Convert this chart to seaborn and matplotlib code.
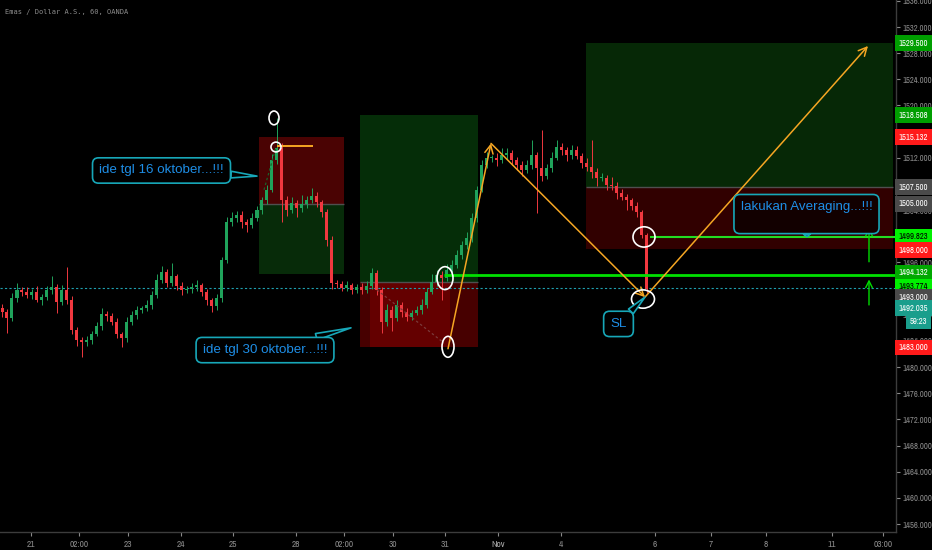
import numpy as np
import pandas as pd
import matplotlib
matplotlib.use('Agg')
import matplotlib.pyplot as plt
import matplotlib.transforms as mtransforms
from matplotlib import font_manager
from matplotlib.patches import Ellipse
import seaborn as sns

# Emas / Dollar A.S., 60m - bars (one bar per slot)
first_open = 1489.0
closes = [
    1488.4, 1487.5, 1490.6, 1491.8, 1491.5, 1491.0, 1491.5, 1490.3, 1490.7, 1491.8,
    1492.2, 1490.0, 1491.8, 1490.3, 1485.7, 1484.1, 1483.8, 1484.1, 1485.1, 1486.3,
    1488.1, 1487.8, 1486.9, 1485.1, 1484.4, 1486.9, 1488.0, 1488.7, 1489.0, 1489.5,
    1491.0, 1493.3, 1494.5, 1492.9, 1493.9, 1492.4, 1491.8, 1491.9, 1492.2, 1492.5,
    1491.5, 1490.3, 1489.3, 1490.6, 1496.4, 1502.2, 1502.8, 1503.3, 1502.2, 1501.7,
    1502.8, 1504.0, 1505.5, 1507.1, 1511.7, 1513.5, 1505.5, 1504.0, 1505.1, 1504.3,
    1504.9, 1505.5, 1506.2, 1505.2, 1503.7, 1499.4, 1492.9, 1492.7, 1492.1, 1492.5,
    1491.8, 1492.2, 1491.8, 1492.4, 1494.4, 1491.8, 1486.9, 1488.7, 1487.5, 1489.5,
    1488.4, 1487.7, 1488.3, 1488.7, 1489.5, 1491.5, 1493.0, 1494.1, 1493.6, 1494.8,
    1495.6, 1497.1, 1498.7, 1499.7, 1502.8, 1507.1, 1510.9, 1512.0, 1512.0, 1511.7,
    1512.4, 1512.7, 1511.7, 1510.9, 1510.1, 1510.9, 1512.4, 1510.4, 1509.2, 1510.4,
    1512.0, 1513.7, 1513.2, 1512.4, 1513.2, 1512.3, 1511.2, 1510.6, 1509.8, 1508.9,
    1508.9, 1507.8, 1507.7, 1506.6, 1506.0, 1505.5, 1504.6, 1503.7, 1500.2, 1492.0,
]
hi_wick = [
    0.6, 0.5, 0.8, 1.0, 0.4, 0.7, 0.5, 0.9, 0.4, 0.6,
    1.8, 0.5, 0.8, 3.5, 0.6, 0.4, 0.5, 0.7, 0.4, 0.6,
    0.9, 0.5, 0.4, 0.6, 0.3, 0.7, 0.5, 0.6, 0.4, 0.8,
    0.6, 1.0, 0.9, 0.5, 2.0, 0.4, 0.6, 0.5, 0.7, 0.8,
    0.4, 0.5, 0.3, 0.6, 0.5, 0.7, 0.9, 0.6, 0.5, 0.4,
    0.8, 0.6, 0.5, 0.7, 0.9, 4.6, 0.8, 0.6, 0.9, 0.5,
    1.4, 0.7, 1.2, 0.6, 0.4, 0.5, 0.6, 0.4, 0.5, 0.7,
    0.4, 0.5, 0.6, 0.8, 0.7, 0.5, 0.4, 1.0, 0.6, 0.8,
    0.5, 0.6, 0.4, 0.7, 0.9, 0.6, 1.2, 0.8, 0.6, 0.9,
    0.7, 0.8, 0.6, 0.9, 0.7, 0.6, 0.8, 0.9, 0.5, 0.7,
    1.1, 0.8, 0.5, 0.4, 0.6, 0.7, 2.3, 0.5, 5.9, 0.6,
    0.9, 1.0, 0.6, 0.5, 0.8, 0.6, 0.5, 0.7, 4.1, 0.6,
    0.8, 0.5, 1.2, 0.6, 0.7, 0.5, 0.4, 0.6, 0.3, 0.3,
]
lo_wick = [
    0.8, 2.3, 0.5, 0.6, 0.7, 0.5, 0.6, 0.4, 0.8, 0.5,
    0.6, 1.7, 0.5, 0.6, 0.7, 0.9, 2.3, 0.6, 0.5, 0.4,
    0.6, 0.8, 0.5, 0.7, 1.3, 0.5, 0.4, 0.6, 0.5, 0.4,
    0.6, 0.5, 0.4, 0.7, 0.5, 0.6, 0.8, 0.4, 0.5, 0.6,
    0.7, 0.8, 0.9, 0.5, 0.6, 0.5, 0.7, 0.6, 0.9, 1.0,
    0.5, 0.4, 0.6, 0.5, 0.4, 0.6, 3.3, 0.9, 0.5, 1.4,
    0.6, 0.5, 0.4, 0.7, 0.8, 0.9, 1.0, 0.6, 0.5, 0.4,
    0.7, 0.5, 0.6, 0.4, 0.5, 0.8, 1.7, 0.6, 2.0, 0.5,
    0.7, 0.6, 0.5, 0.4, 0.6, 0.5, 0.4, 0.6, 3.3, 0.5,
    0.6, 0.4, 0.5, 0.7, 0.5, 0.6, 0.4, 0.5, 0.7, 0.9,
    0.5, 0.6, 0.8, 0.7, 0.9, 0.5, 0.6, 6.8, 0.8, 0.5,
    0.6, 0.4, 0.8, 0.9, 0.6, 0.5, 0.7, 0.6, 0.9, 1.2,
    0.5, 0.7, 0.6, 0.9, 0.5, 1.5, 0.6, 0.8, 0.4, 0.6,
]

# time axis (bar-slot units)
tick_pos = [5.8, 15.4, 25.2, 35.8, 46.2, 58.8, 68.4, 78.2, 88.6, 99.2,
            111.8, 130.6, 141.8, 152.8, 166.0, 176.2]
tick_lab = ['21', '02:00', '23', '24', '25', '28', '02:00', '30', '31', 'Nov',
            '4', '6', '7', '8', '11', '03:00']

# position tools: (x0, x1, upper, entry, lower)
box1 = (51.4, 68.4, 1515.132, 1505.0, 1494.3)      # short
box2 = (71.6, 95.2, 1518.508, 1493.0, 1483.0)      # long
box3 = (116.8, 178.2, 1529.5, 1507.5, 1498.0)      # long

last_price = 1492.035
avg_level = 1499.823
buy_level = 1494.132

# right scale labels: (text, shown at, background, text colour)
price_tags = [
    ('1529.500', 1529.5, '#009e00', 'white'),
    ('1518.508', 1518.508, '#009e00', 'white'),
    ('1515.132', 1515.132, '#ff1a1a', 'white'),
    ('1507.500', 1507.5, '#4a4a4a', 'white'),
    ('1505.000', 1505.0, '#4a4a4a', 'white'),
    ('1499.823', 1499.9, '#00f000', 'black'),
    ('1498.000', 1497.9, '#ff1a1a', 'white'),
    ('1494.132', 1494.4, '#00a800', 'white'),
    ('1493.774', 1492.3, '#00f000', 'black'),
    ('1493.000', 1490.7, '#4a4a4a', 'white'),
    ('1492.035', 1489.0, '#1a9e8c', 'white'),
    ('1483.000', 1483.0, '#ff1a1a', 'white'),
]

df = pd.DataFrame({'close': closes})
df['open'] = [first_open] + closes[:-1]
df['high'] = df[['open', 'close']].max(axis=1) + np.array(hi_wick)
df['low'] = df[['open', 'close']].min(axis=1) - np.array(lo_wick)
df['x'] = np.arange(len(df))
up = df['close'] >= df['open']

# narrow face for the price scale if one is installed
names = sorted({f.name for f in font_manager.fontManager.ttflist})
narrow = [n for n in names if 'Narrow' in n or 'Condensed' in n]
if narrow:
    SCALE_FONT, SCALE_FS = narrow[0], 6.2
else:
    SCALE_FONT, SCALE_FS = 'Liberation Sans', 5.0
CALL_FONT, CALL_FS = 'Liberation Sans', 9.6

sns.set_theme(style='dark', rc={'axes.facecolor': 'black', 'figure.facecolor': 'black'})
plt.rcParams['font.family'] = [SCALE_FONT, 'DejaVu Sans']

fig = plt.figure(figsize=(9.32, 5.5), dpi=100)
ax = fig.add_axes([0, 18 / 550, 896 / 932, 532 / 550])
ax.set_facecolor('black')
ax.set_xlim(-0.4, 178.8)
ax.set_ylim(1454.78, 1536.13)

RED_DARK, GREEN_DARK = '#4a0303', '#072b09'

# position tool boxes
x0, x1, top, mid, bot = box1
ax.fill_between([x0, x1], mid, top, color=RED_DARK, lw=0, zorder=0.5)
ax.fill_between([x0, x1], bot, mid, color=GREEN_DARK, lw=0, zorder=0.5)
ax.hlines(mid, x0, x1, color='#4f4f4f', lw=1, zorder=0.6)

x0, x1, top, mid, bot = box2
ax.fill_between([x0, x1], mid, top, color='#052d08', lw=0, zorder=0.5)
ax.fill_between([x0, x1], bot, mid, color='#470000', lw=0, zorder=0.5)
ax.fill_between([73.6, 89.6], bot, mid, color='#640000', lw=0, zorder=0.55)
ax.hlines(mid, x0, x1, color='#4f4f4f', lw=1, zorder=0.6)

x0, x1, top, mid, bot = box3
ax.fill_between([x0, x1], mid, top, color='#062806', lw=0, zorder=0.5)
ax.fill_between([x0, x1], bot, mid, color='#310000', lw=0, zorder=0.5)
ax.hlines(mid, x0, x1, color='#4f4f4f', lw=1, zorder=0.6)

# candles
UP_C, DN_C = '#1fa35b', '#f0383f'
colors = np.where(up, UP_C, DN_C)
ax.vlines(df['x'], df['low'], df['high'], colors=colors, lw=0.7, zorder=2)
body = np.maximum((df['close'] - df['open']).abs(), 0.15)
ax.bar(df['x'], body, bottom=df[['open', 'close']].min(axis=1), width=0.6,
       color=colors, lw=0, zorder=2.1)

# horizontal levels
ax.axhline(last_price, color='#1f9fae', lw=0.8, ls=(0, (2, 2)), zorder=1.5)
ax.hlines(buy_level, 88.4, 178.8, color='#00e000', lw=2, zorder=3)
ax.hlines(avg_level, 129.6, 178.8, color='#22dd22', lw=1.5, zorder=3)
ax.hlines(1513.8, 55.0, 62.2, color='#f5a623', lw=1.4, zorder=3)

# dotted paths of the tools
ax.plot([52.4, 54.8], [1507.1, 1513.6], color='#1c5f2a', lw=0.9, ls=(0, (2, 2)), zorder=3)
ax.plot([75.0, 88.2], [1491.8, 1483.8], color='#7a3a3a', lw=0.9, ls=(0, (2, 2)), zorder=3)

# orange projection arrows
ORANGE = '#f5a623'
path = [(89.2, 1482.8), (97.8, 1514.2), (128.6, 1490.7), (173.2, 1529.1)]
for a, b in zip(path[:-1], path[1:]):
    ax.annotate('', xy=b, xytext=a,
                arrowprops=dict(arrowstyle='->,head_length=0.5,head_width=0.25',
                                color=ORANGE, lw=1.1, shrinkA=0, shrinkB=0), zorder=4)

# green arrows near the right edge
for y0, y1 in [(1496.1, 1501.3), (1489.5, 1493.4)]:
    ax.annotate('', xy=(173.4, y1), xytext=(173.4, y0),
                arrowprops=dict(arrowstyle='->,head_length=0.4,head_width=0.2',
                                color='#00dd00', lw=1, shrinkA=0, shrinkB=0), zorder=4)

# hand-drawn circles
circles = [(54.4, 1518.1, 2.0, 2.1), (54.8, 1513.65, 2.0, 1.5),
           (88.6, 1493.6, 3.2, 3.5), (89.2, 1483.1, 2.4, 3.2),
           (128.4, 1499.9, 4.4, 3.1), (128.2, 1490.4, 4.6, 2.8)]
for cx, cy, w, h in circles:
    ax.add_patch(Ellipse((cx, cy), w, h, fill=False, ec='white', lw=1.2, zorder=5))

# callouts
TEAL, BLUE = '#17a7b8', '#1e8ee6'
callouts = [
    ('ide tgl 16 oktober...!!!', (31.9, 1510.06), (51.0, 1509.2), 'black'),
    ('ide tgl 30 oktober...!!!', (52.6, 1482.6), (69.8, 1486.0), 'black'),
    ('lakukan Averaging...!!!\n', (160.9, 1503.4), (161.0, 1499.95), '#120000'),
    ('SL', (123.3, 1486.6), (128.6, 1490.7), 'black'),
]
for txt, pos, tip, fc in callouts:
    ax.annotate(txt, xy=tip, xytext=pos, ha='center', va='center', fontsize=CALL_FS,
                family=CALL_FONT, color=BLUE, zorder=6,
                bbox=dict(boxstyle='round,pad=0.5,rounding_size=0.45', fc=fc, ec=TEAL, lw=1.2),
                arrowprops=dict(arrowstyle='wedge,tail_width=0.5,shrink_factor=0.5',
                                fc=fc, ec=TEAL, lw=1.2, shrinkA=0, shrinkB=0))

# axes styling
for s in ['top', 'left']:
    ax.spines[s].set_visible(False)
for s in ['right', 'bottom']:
    ax.spines[s].set_visible(True)
    ax.spines[s].set_color('#3c3c3c')
    ax.spines[s].set_linewidth(1)
ax.grid(False)

ax.yaxis.tick_right()
yt = np.arange(1456, 1537, 4)
ax.set_yticks(yt)
ax.set_yticklabels([f'{v:.3f}' for v in yt])
ax.set_xticks(tick_pos)
ax.set_xticklabels(tick_lab)
ax.tick_params(axis='y', colors='#8a8a8a', labelsize=SCALE_FS, length=3, width=0.8,
               direction='out', pad=2, right=True, left=False)
ax.tick_params(axis='x', colors='#8a8a8a', labelsize=SCALE_FS + 0.5, length=3, width=0.8,
               direction='out', pad=3, bottom=True)
for lab in ax.get_xticklabels():
    if lab.get_text() == 'Nov':
        lab.set_fontweight('bold')
        lab.set_color('#b0b0b0')

trans = mtransforms.blended_transform_factory(ax.transAxes, ax.transData)
for txt, yv, bg, fg in price_tags:
    ax.text(1.003, yv, txt, transform=trans, ha='left', va='center', fontsize=SCALE_FS,
            color=fg, clip_on=False, zorder=7,
            bbox=dict(boxstyle='square,pad=0.4', fc=bg, ec='none'))
ax.text(1.0155, 1487.0, '59:23', transform=trans, ha='left', va='center', fontsize=SCALE_FS,
        color='white', clip_on=False, zorder=7,
        bbox=dict(boxstyle='square,pad=0.4', fc='#1a9e8c', ec='none'))

fig.text(5 / 932, 1 - 12 / 550, 'Emas / Dollar A.S., 60, OANDA', ha='left', va='center',
         fontsize=5, color='#8c8c8c', family='DejaVu Sans Mono')

fig.savefig('out.png', dpi=100, facecolor='black')
